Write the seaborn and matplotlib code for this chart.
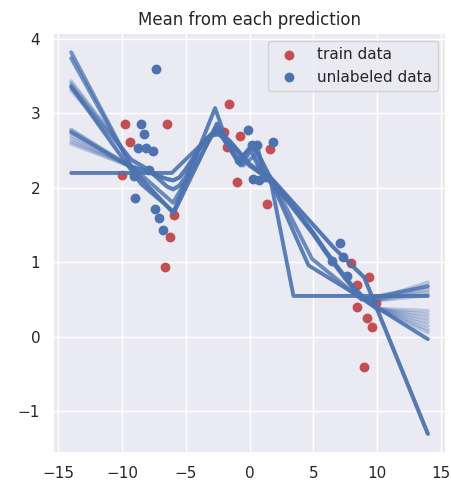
import matplotlib
matplotlib.use("Agg")
import matplotlib.pyplot as plt
import seaborn as sns

# ---- observed points ----
train_x = [-9.75, -9.41, -10.0, -6.48, -5.96, -6.22, -6.61, -1.59, -2.04, -1.77,
           -0.73, -0.99, 1.57, 1.36, 7.95, 9.39, 8.42, 9.94, 8.42, 9.2, 9.6, 9.02]
train_y = [2.85, 2.62, 2.17, 2.85, 1.64, 1.34, 0.94, 3.12, 2.75, 2.55,
           2.70, 2.08, 2.52, 1.78, 0.99, 0.80, 0.70, 0.46, 0.40, 0.26, 0.13, -0.41]

unlabeled_x = [-7.32, -8.49, -8.26, -8.75, -8.1, -7.6, -7.92, -9.1, -9.02, -7.45,
               -7.08, -6.82, -0.13, 1.83, 0.19, 0.58, -0.86, 0.31, 0.71, 1.23,
               7.11, 7.32, 6.46, 7.64]
unlabeled_y = [3.6, 2.85, 2.72, 2.54, 2.54, 2.49, 2.24, 2.16, 1.86, 1.72,
               1.59, 1.44, 2.77, 2.61, 2.57, 2.57, 2.37, 2.12, 2.10, 2.14,
               1.26, 1.07, 1.02, 0.82]

# ---- piecewise-linear model means ----
steep_x = [-14, -9.1, -5.96, -2.56, -1.9, -0.9, 0.1, 0.7, 1.6, 6.6, 9.0, 14]
steep_y = [2.23, 2.23, 1.66, 2.86, 2.62, 2.35, 2.55, 2.45, 2.15, 1.2, 0.8, -1.3]
steep_left = [3.82, 3.74]

kinked_x = [-14, -8.5, -5.96, -2.7, -1.9, -0.9, 0.1, 0.7, 1.2, 1.8, 4.63, 9.5, 14]
kinked_y = [3.36, 2.05, 1.68, 3.07, 2.68, 2.35, 2.55, 2.5, 2.15, 2.05, 0.96, 0.45, -0.03]

flat_x = [-14, -6.1, -2.6, -1.9, -0.7, 0.1, 0.8, 1.6, 3.45, 14]
flat_y = [2.2, 2.2, 2.78, 2.62, 2.3, 2.5, 2.25, 2.15, 0.55, 0.55]

kinked2_x = [-14, -9.0, -6.0, -2.6, -1.8, -0.5, 0.5, 1.0, 1.8, 4.9, 8.8, 14]
kinked2_y = [2.75, 2.25, 1.8, 2.8, 2.6, 2.3, 2.45, 2.2, 2.1, 1.05, 0.5, 0.68]

# ---- smooth model means (shared core, spread at the extrapolated ends) ----
upper_core_x = [-9.3, -8, -7, -6.5, -6, -5.5, -5, -4.5, -4, -3.5, -3, -2.5, -2, -1.5,
                -1, 0, 1, 2, 3, 4, 5, 6, 7, 8, 9, 9.5]
upper_core_y = [2.38, 2.25, 2.1, 2.02, 1.98, 2.03, 2.15, 2.32, 2.5, 2.64, 2.72, 2.74,
                2.7, 2.62, 2.52, 2.32, 2.2, 2.05, 1.85, 1.62, 1.4, 1.15, 0.92, 0.7,
                0.52, 0.48]
upper_left = [3.43, 3.40, 3.37, 3.34, 3.31]
upper_right = [0.73, 0.68, 0.64, 0.6, 0.56]

lower_core_x = [-9.5, -8, -7, -6.5, -6, -5.5, -5, -4.5, -4, -3.5, -3, -2.5, -2, -1.5,
                -1, 0, 1, 2, 3, 4, 5, 6, 7, 8, 9, 10]
lower_core_y = [2.3, 2.22, 2.15, 2.12, 2.1, 2.14, 2.25, 2.38, 2.52, 2.63, 2.7, 2.72,
                2.68, 2.6, 2.5, 2.3, 2.18, 2.02, 1.82, 1.6, 1.38, 1.13, 0.9, 0.68,
                0.5, 0.38]
lower_left = [2.78, 2.74, 2.70, 2.66, 2.62, 2.59]
lower_right = [0.35, 0.3, 0.25, 0.2, 0.15, 0.1, 0.06]

X_MIN, X_MAX = -14, 14

sns.set_theme()
red = sns.color_palette("deep")[3]
blue = sns.color_palette("deep")[0]

fig, ax = plt.subplots(figsize=(4.52, 4.87), dpi=100)
fig.subplots_adjust(left=0.118, right=0.986, bottom=0.070, top=0.932)

sns.scatterplot(x=train_x, y=train_y, color=red, s=50, linewidth=0,
                label="train data", ax=ax, zorder=2)
sns.scatterplot(x=unlabeled_x, y=unlabeled_y, color=blue, s=50, linewidth=0,
                label="unlabeled data", ax=ax, zorder=2)


def draw(xs, ys, alpha, lw=2.8):
    sns.lineplot(x=xs, y=ys, sort=False, estimator=None, color=blue,
                 alpha=alpha, lw=lw, legend=False, ax=ax, zorder=3)


for yl in steep_left:
    draw(steep_x, [yl] + steep_y[1:], 0.75)
draw(kinked_x, kinked_y, 0.9)
draw(flat_x, flat_y, 0.9)
draw(kinked2_x, kinked2_y, 0.8)

for i, yl in enumerate(upper_left):
    yr = upper_right[i]
    draw([X_MIN] + upper_core_x + [X_MAX], [yl] + upper_core_y + [yr], 0.35)

for i, yr in enumerate(lower_right):
    yl = lower_left[i % len(lower_left)]
    draw([X_MIN] + lower_core_x + [X_MAX], [yl] + lower_core_y + [yr], 0.3)

ax.set_title("Mean from each prediction")
ax.legend(loc="upper right")

fig.savefig("out.png", dpi=100)
